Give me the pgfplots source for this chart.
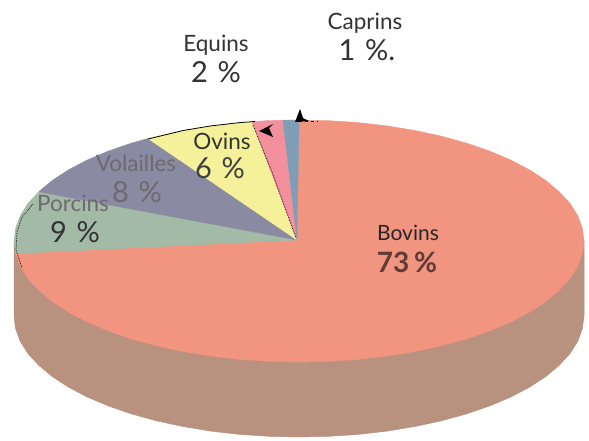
\documentclass[border=0pt]{standalone}
\usepackage{fontspec}
\setmainfont{Lato}
\usepackage{pgfplots}
\pgfplotsset{compat=1.18}
\definecolor{bovins}{HTML}{F19480}
\definecolor{cote}{HTML}{B9917F}
\definecolor{porcins}{HTML}{A3BBA6}
\definecolor{volailles}{HTML}{8A8AA2}
\definecolor{ovins}{HTML}{F5F09A}
\definecolor{equins}{HTML}{F2909E}
\definecolor{caprins}{HTML}{7F9DB5}
\definecolor{passe}{HTML}{6E6A70}
\newcommand{\nom}{\fontsize{22.5}{24}\selectfont}
\newcommand{\pct}{\fontsize{29}{32}\selectfont}
\begin{document}
\begin{tikzpicture}
\begin{axis}[
  width=589pt, height=440pt, scale only axis,
  xmin=0, xmax=589, ymin=0, ymax=440, y dir=reverse,
  hide axis, clip=false,
  every axis plot/.append style={line join=round},
]
% page background, which also fixes the extent of the picture
\addplot[fill=white, draw=none] coordinates {(0,0)(589,0)(589,440)(0,440)} -- cycle;
% side wall of the disc
\addplot[fill=cote, draw=cote, line width=0.5pt] coordinates {
(584,241)(584,316)(582.4,328.6)(577.8,341.2)(570.1,353.4)(559.3,365.2)(545.8,376.5)(529.6,387.1)(510.8,397)(489.7,405.9)(466.5,413.9)(441.5,420.8)(414.9,426.5)(387.1,431.1)(358.3,434.4)(328.8,436.3)(299,437)(269.2,436.3)(239.7,434.4)(210.9,431.1)(183.1,426.5)(156.5,420.8)(131.5,413.9)(108.3,405.9)(87.2,397)(68.4,387.1)(52.2,376.5)(38.7,365.2)(27.9,353.4)(20.2,341.2)(15.6,328.6)(14,316)(14,241)
} -- cycle;
% Bovins 73 %
\addplot[fill=bovins, draw=bovins, line width=0.4pt] coordinates {
(297,240)(299,120)(328.8,120.7)(358.3,122.6)(387.1,125.9)(414.9,130.5)(441.5,136.2)(466.5,143.1)(489.7,151.1)(510.8,160)(529.6,169.9)(545.8,180.5)(559.3,191.8)(570.1,203.6)(577.8,215.8)(582.4,228.4)(584,241)(582.4,253.6)(577.8,266.2)(570.1,278.4)(559.3,290.2)(545.8,301.5)(529.6,312.1)(510.8,322)(489.7,330.9)(466.5,338.9)(441.5,345.8)(414.9,351.5)(387.1,356.1)(358.3,359.4)(328.8,361.3)(299,362)(269.2,361.3)(239.7,359.4)(210.9,356.1)(183.1,351.5)(156.5,345.8)(131.5,338.9)(108.3,330.9)(87.2,322)(68.4,312.1)(52.2,301.5)(38.7,290.2)(27.9,278.4)(20.2,266.2)(15.6,253.6)
} -- cycle;
% Porcins 9 %
\addplot[fill=porcins, draw=porcins, line width=0.4pt] coordinates {
(297,240)(15.6,253.6)(14,241)(15.6,228.4)(20.2,215.8)(27.9,203.6)(38.7,191.8)
} -- cycle;
% Volailles 8 %
\addplot[fill=volailles, draw=volailles, line width=0.4pt] coordinates {
(297,240)(38.7,191.8)(52.2,180.5)(68.4,169.9)(87.2,160)(108.3,151.1)(131.5,143.1)(148,138.5)
} -- cycle;
% Ovins 6 %
\addplot[fill=ovins, draw=ovins, line width=0.4pt] coordinates {
(297,240)(148,138.5)(156.5,136.2)(183.1,130.5)(210.9,125.9)(239.7,122.6)(252,121.7)
} -- cycle;
% Equins 2 %
\addplot[fill=equins, draw=equins, line width=0.4pt] coordinates {
(297,240)(252,121.7)(268,120.6)(283,120.2)
} -- cycle;
% Caprins 1 %
\addplot[fill=caprins, draw=caprins, line width=0.4pt] coordinates {
(297,240)(283,120.2)(299,120)
} -- cycle;
% leader lines along the upper rim
\addplot[black, line width=0.8pt] coordinates {
(148,139)(183.1,130.5)(210.9,125.9)(239.7,122.6)(255,121.5)
};
\addplot[black, line width=0.7pt, densely dotted] coordinates {(253,125)(272,172)(296,238)};
\addplot[black, line width=0.7pt, densely dotted] coordinates {(33,204)(22,217)(17,232)(16,250)(22,268)};
\addplot[black, line width=0.5pt, dashed] coordinates {(299,121)(318,121)};
% small arrowheads pointing at the outer slices
\addplot[fill=black, draw=none] coordinates {(259,131)(273,124)(269,128)(273,137)} -- cycle;
\addplot[fill=black, draw=none] coordinates {(300,109)(303,118)(309,121)(295,122)} -- cycle;
% labels
\node[text=black!80, font=\nom] at (axis cs:365,23) {Caprins};
\node[text=black!80, font=\pct] at (axis cs:367,50) {1\,\,\%.};
\node[text=black!80, font=\nom] at (axis cs:216,45) {Equins};
\node[text=black!80, font=\pct] at (axis cs:216,72) {2\,\,\%};
\node[text=black!80, font=\nom] at (axis cs:222,141) {Ovins};
\node[text=black!75, font=\pct] at (axis cs:220,168) {6\,\,\%};
\node[text=passe, font=\nom] at (axis cs:136,163) {Volailles};
\node[text=passe, font=\pct] at (axis cs:137,192) {8\,\,\%};
\node[text=passe, font=\nom] at (axis cs:73,203) {Porcins};
\node[text=black!80, font=\pct] at (axis cs:75,232) {9\,\,\%};
\node[text=black!85, font=\fontsize{21}{24}\selectfont] at (axis cs:408,233) {Bovins};
\node[text=black!60!bovins, font=\bfseries\fontsize{28}{32}\selectfont] at (axis cs:407,262) {73\,\%};
\end{axis}
\end{tikzpicture}
\end{document}
